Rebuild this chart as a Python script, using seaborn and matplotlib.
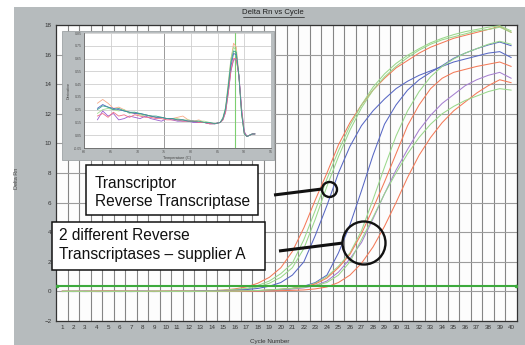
import numpy as np
import pandas as pd
import seaborn as sns
import matplotlib.pyplot as plt
from matplotlib.patches import Rectangle, Circle
from matplotlib.lines import Line2D
from matplotlib.transforms import IdentityTransform

# ---------------- data ----------------
cycles = list(range(1, 41))

# Delta Rn per cycle, Transcriptor group (early)
tr_orange = [0.01, 0.0, 0.01, 0.02, 0.03, 0.02, 0.01, 0.0, 0.01, 0.0, 0.01, 0.02, 0.03, 0.05, 0.09, 0.17,
             0.3, 0.55, 0.95, 1.6, 2.7, 4.3, 6.2, 8.0, 9.9, 11.4, 12.6, 13.6, 14.4, 15.1, 15.6, 16.1,
             16.5, 16.8, 17.1, 17.3, 17.5, 17.7, 17.9, 17.5]
tr_green_a = [0.0, 0.01, 0.0, 0.0, 0.01, 0.0, 0.01, 0.0, 0.0, 0.01, 0.02, 0.02, 0.03, 0.05, 0.08, 0.13,
              0.2, 0.4, 0.7, 1.2, 1.9, 3.5, 5.5, 7.6, 9.5, 11.2, 12.6, 13.8, 14.7, 15.4, 15.95, 16.4,
              16.8, 17.1, 17.35, 17.55, 17.7, 17.85, 17.95, 17.6]
tr_green_b = [0.0, 0.0, 0.01, 0.0, 0.0, 0.01, 0.0, 0.01, 0.0, 0.0, 0.01, 0.01, 0.02, 0.04, 0.06, 0.1,
              0.15, 0.3, 0.55, 0.95, 1.6, 2.9, 4.9, 7.1, 9.1, 10.9, 12.4, 13.6, 14.5, 15.2, 15.8, 16.3,
              16.7, 17.0, 17.2, 17.4, 17.6, 17.7, 17.85, 17.5]
tr_blue = [-0.01, 0.0, -0.01, 0.0, 0.0, -0.01, 0.0, 0.0, 0.0, -0.01, 0.0, 0.0, 0.01, 0.02, 0.04, 0.07,
           0.12, 0.2, 0.35, 0.6, 1.1, 2.0, 3.8, 5.8, 8.0, 9.8, 11.2, 12.2, 13.0, 13.7, 14.2, 14.6,
           14.9, 15.2, 15.5, 15.7, 15.9, 16.1, 16.2, 15.8]

# Delta Rn per cycle, supplier A group (late)
sa_blue = [0.0, -0.01, 0.0, -0.01, -0.01, 0.0, -0.01, 0.0, -0.01, 0.0, 0.0, -0.01, 0.0, 0.0, 0.0, 0.01,
           0.02, 0.04, 0.07, 0.12, 0.2, 0.35, 0.6, 1.1, 2.6, 4.5, 6.8, 9.2, 11.3, 12.6, 13.6, 14.3,
           14.8, 15.25, 15.75, 16.1, 16.4, 16.65, 16.85, 16.6]
sa_green_a = [0.0, 0.01, 0.0, 0.0, 0.0, 0.01, 0.0, 0.0, 0.0, 0.01, 0.0, 0.0, 0.0, 0.01, 0.01, 0.02,
              0.03, 0.06, 0.1, 0.15, 0.22, 0.32, 0.55, 1.0, 1.7, 2.6, 4.1, 6.2, 8.4, 10.5, 12.2, 13.5,
              14.5, 15.2, 15.7, 16.1, 16.4, 16.7, 16.9, 16.7]
sa_orange_a = [0.0, 0.0, 0.0, 0.01, 0.0, 0.0, 0.01, 0.0, 0.0, 0.0, 0.01, 0.0, 0.0, 0.0, 0.01, 0.02,
               0.03, 0.05, 0.09, 0.14, 0.2, 0.3, 0.5, 0.9, 1.6, 2.5, 3.9, 5.6, 7.4, 9.3, 11.2, 12.6,
               13.7, 14.4, 14.8, 15.0, 15.2, 15.35, 15.5, 15.2]
sa_purple = [0.0, 0.0, 0.01, 0.0, 0.0, 0.0, 0.0, 0.01, 0.0, 0.0, 0.0, 0.0, 0.01, 0.0, 0.01, 0.01,
             0.02, 0.04, 0.07, 0.11, 0.16, 0.24, 0.4, 0.7, 1.3, 2.2, 3.3, 4.9, 6.6, 8.2, 9.6, 10.9,
             11.9, 12.7, 13.3, 13.9, 14.3, 14.6, 14.8, 14.4]
sa_orange_b = [0.0, 0.0, 0.0, 0.0, 0.01, 0.0, 0.0, 0.0, 0.0, 0.01, 0.0, 0.0, 0.0, 0.0, 0.0, 0.01,
               0.01, 0.02, 0.03, 0.05, 0.07, 0.1, 0.17, 0.3, 0.6, 1.1, 1.9, 3.0, 4.4, 6.0, 7.7, 9.2,
               10.4, 11.4, 12.2, 12.8, 13.4, 13.9, 14.3, 14.1]
sa_green_b = [0.0, 0.0, 0.0, 0.01, 0.0, 0.0, 0.0, 0.0, 0.01, 0.0, 0.0, 0.0, 0.0, 0.01, 0.01, 0.02,
              0.04, 0.06, 0.1, 0.15, 0.2, 0.28, 0.4, 0.6, 1.1, 2.0, 3.5, 5.0, 6.6, 8.0, 9.3, 10.4,
              11.3, 12.0, 12.5, 12.9, 13.2, 13.5, 13.7, 13.6]

threshold = 0.35

# melt curve inset: derivative vs temperature
melt_temp = [62.5, 63.5, 64.5, 65.5, 66.5, 67.5, 68.5, 69.5, 70.5, 71.5, 72.5, 73.5, 74.5, 75.5,
             76.5, 77.5, 78.5, 79.5, 80.5, 81.5, 82.5, 83.5, 84.5, 85.5, 86.0, 86.5, 87.0, 87.5,
             88.0, 88.5, 89.0, 89.5, 90.0, 90.5, 91.0, 91.5, 92.0]
melt_orange = [0.30, 0.33, 0.30, 0.26, 0.27, 0.25, 0.23, 0.22, 0.21, 0.21, 0.20, 0.19, 0.19, 0.18, 0.18,
               0.19, 0.20, 0.17, 0.16, 0.17, 0.15, 0.14, 0.14, 0.15, 0.18, 0.26, 0.44, 0.64, 0.77, 0.74,
               0.52, 0.22, 0.06, 0.04, 0.05, 0.06, 0.06]
melt_green = [0.22, 0.25, 0.26, 0.25, 0.24, 0.25, 0.22, 0.23, 0.21, 0.20, 0.20, 0.19, 0.19, 0.18, 0.18,
              0.18, 0.17, 0.17, 0.16, 0.16, 0.16, 0.15, 0.14, 0.15, 0.19, 0.27, 0.46, 0.65, 0.74, 0.71,
              0.50, 0.21, 0.06, 0.04, 0.05, 0.06, 0.06]
melt_blue = [0.26, 0.29, 0.27, 0.26, 0.25, 0.24, 0.23, 0.22, 0.22, 0.21, 0.20, 0.19, 0.19, 0.18, 0.18,
             0.17, 0.17, 0.16, 0.16, 0.15, 0.15, 0.14, 0.14, 0.15, 0.18, 0.25, 0.41, 0.59, 0.69, 0.68,
             0.51, 0.23, 0.07, 0.04, 0.05, 0.06, 0.06]
melt_purple = [0.17, 0.24, 0.20, 0.22, 0.17, 0.18, 0.20, 0.19, 0.18, 0.20, 0.18, 0.17, 0.16, 0.18, 0.17,
               0.16, 0.16, 0.16, 0.15, 0.15, 0.15, 0.14, 0.14, 0.15, 0.17, 0.23, 0.38, 0.55, 0.64, 0.64,
               0.52, 0.26, 0.08, 0.04, 0.05, 0.06, 0.06]
melt_red = [0.20, 0.22, 0.19, 0.23, 0.20, 0.21, 0.19, 0.21, 0.20, 0.19, 0.19, 0.18, 0.18, 0.17, 0.17,
            0.17, 0.16, 0.16, 0.16, 0.15, 0.15, 0.14, 0.14, 0.15, 0.17, 0.23, 0.38, 0.56, 0.65, 0.65,
            0.51, 0.25, 0.07, 0.04, 0.05, 0.06, 0.06]
melt_teal = [0.25, 0.28, 0.27, 0.25, 0.26, 0.24, 0.23, 0.23, 0.22, 0.21, 0.20, 0.20, 0.19, 0.18, 0.18,
             0.17, 0.17, 0.16, 0.16, 0.16, 0.15, 0.15, 0.14, 0.15, 0.18, 0.26, 0.43, 0.62, 0.71, 0.70,
             0.51, 0.22, 0.06, 0.04, 0.05, 0.06, 0.06]
melt_peak_temp = 88.3

# ---------------- styling ----------------
ORANGE, GREEN, BLUE, PURPLE = "#f47a58", "#9ad88b", "#5767c4", "#a57fd0"
amp_curves = {
    "tr_orange": (tr_orange, ORANGE), "tr_green_a": (tr_green_a, GREEN),
    "tr_green_b": (tr_green_b, GREEN), "tr_blue": (tr_blue, BLUE),
    "sa_blue": (sa_blue, BLUE), "sa_green_a": (sa_green_a, GREEN),
    "sa_orange_a": (sa_orange_a, ORANGE), "sa_purple": (sa_purple, PURPLE),
    "sa_orange_b": (sa_orange_b, ORANGE), "sa_green_b": (sa_green_b, GREEN),
}
melt_curves = {
    "orange": (melt_orange, "#f7aa88"), "green": (melt_green, "#a3dc93"),
    "blue": (melt_blue, "#4f62c0"), "purple": (melt_purple, "#9a5bd0"),
    "red": (melt_red, "#ee6f86"), "teal": (melt_teal, "#3aa48f"),
}

sns.set_style("white")
plt.rcParams["font.family"] = ["Liberation Sans", "DejaVu Sans"]

W, H = 525, 345
PANEL = "#b6bbbd"
fig = plt.figure(figsize=(W / 100, H / 100), dpi=100)
fig.patch.set_facecolor("white")


def fx(x):
    return x / W


def fy(y):
    return 1 - y / H


fig.add_artist(Rectangle((fx(14), 0), 1 - fx(14), fy(7), transform=fig.transFigure,
                         facecolor=PANEL, edgecolor="none", zorder=-1))

# ---------------- main amplification plot ----------------
ax = fig.add_axes([fx(56.2), fy(321), 460.8 / W, 296 / H])
ax.set_facecolor("#fdfdfd")

amp_df = pd.concat([pd.DataFrame({"cycle": cycles, "delta_rn": v, "curve": k})
                    for k, (v, c) in amp_curves.items()])
sns.lineplot(data=amp_df, x="cycle", y="delta_rn", hue="curve",
             palette={k: c for k, (v, c) in amp_curves.items()},
             estimator=None, legend=False, lw=0.75, ax=ax, zorder=3)
ax.axhline(threshold, color="#3daa3d", lw=1.5, zorder=4)
ax.plot([0.6, 40.4], [threshold, threshold], ls="none", marker="o", ms=1.6, color="#3daa3d", zorder=4)

ax.set_xlim(0.5, 40.5)
ax.set_ylim(-2, 18)
ax.set_xticks(cycles)
ax.set_xticks(np.arange(1.5, 40.5, 1), minor=True)
ax.set_yticks(range(-2, 19, 2))
ax.grid(True, which="minor", axis="x", color="#858585", lw=0.8)
ax.grid(True, which="major", axis="y", color="#9c9c9c", lw=0.8)
ax.tick_params(axis="both", which="both", length=0, labelsize=4.5, labelcolor="#333333")
ax.tick_params(axis="x", pad=3)
ax.tick_params(axis="y", pad=3.5)
ax.set_xlabel("")
ax.set_ylabel("")
for s in ax.spines.values():
    s.set_color("#333333")
    s.set_linewidth(0.9)

fig.text(fx(273), fy(12.5), "Delta Rn vs Cycle", ha="center", va="center", fontsize=5.6, color="#222222")
fig.add_artist(Line2D([fx(243), fx(304)], [fy(17), fy(17)], color="#222222", lw=0.5))
fig.text(fx(270), fy(341), "Cycle Number", ha="center", va="center", fontsize=4.5, color="#333333")
fig.text(fx(16), fy(178), "Delta Rn", ha="center", va="center", rotation=90, fontsize=4, color="#444444")

# ---------------- inset melt curve ----------------
fig.add_artist(Rectangle((fx(62), fy(160)), 212 / W, 129 / H, transform=fig.transFigure,
                         facecolor="#b9bec0", edgecolor="#9ea3a5", lw=0.6, zorder=1))
axi = fig.add_axes([fx(84), fy(148), 187 / W, 115 / H], zorder=2)
axi.set_facecolor("white")
melt_df = pd.concat([pd.DataFrame({"temp": melt_temp, "deriv": v, "curve": k})
                     for k, (v, c) in melt_curves.items()])
sns.lineplot(data=melt_df, x="temp", y="deriv", hue="curve",
             palette={k: c for k, (v, c) in melt_curves.items()},
             estimator=None, legend=False, lw=0.6, ax=axi, zorder=3)
axi.axvline(melt_peak_temp, color="#7dcf6f", lw=0.8, zorder=2)
axi.set_xlim(60, 95)
axi.set_ylim(-0.05, 0.85)
axi.set_xticks(range(60, 96, 5))
axi.set_yticks(np.round(np.arange(-0.05, 0.86, 0.1), 2))
axi.set_yticklabels([f"{t:.2f}" for t in np.arange(-0.05, 0.86, 0.1)])
axi.grid(True, color="#cfcfcf", lw=0.6)
axi.get_xgridlines()[3].set_color("#8a8a8a")
axi.tick_params(length=0, labelsize=2.6, labelcolor="#555555", pad=1.5)
axi.set_xlabel("Temperature (C)", fontsize=2.8, color="#444444", labelpad=1.5)
axi.set_ylabel("Derivative", fontsize=2.8, color="#444444", labelpad=2)
for side in ["top", "right"]:
    axi.spines[side].set_visible(False)
for side in ["left", "bottom"]:
    axi.spines[side].set_color("#666666")
    axi.spines[side].set_linewidth(0.6)

# ---------------- annotations (pixel positions) ----------------
pix = IdentityTransform()
for (x0, y0, x1, y1) in [(86, 165, 258, 215), (52, 222, 265, 270)]:
    fig.add_artist(Rectangle((x0, H - y1), x1 - x0, y1 - y0, transform=pix,
                             facecolor="white", edgecolor="#111111", lw=1.1, zorder=5))
for (x, y, s) in [(95, 188, "Transcriptor"), (95, 206, "Reverse Transcriptase"),
                  (59, 240, "2 different Reverse"), (59, 259, "Transcriptases \u2013 supplier A")]:
    fig.text(x, H - y, s, transform=pix, va="baseline", ha="left", fontsize=11.2, color="#111111", zorder=6)
for (x0, y0, x1, y1) in [(274, 195, 322, 189), (279, 251, 343, 243)]:
    fig.add_artist(Line2D([x0, x1], [H - y0, H - y1], transform=pix, color="#111111",
                          lw=2.2, solid_capstyle="butt", zorder=6))
for (cx, cy, r) in [(329.5, 189.5, 7.5), (364, 243, 21.5)]:
    fig.add_artist(Circle((cx, H - cy), r, transform=pix, fill=False, edgecolor="#111111",
                          lw=1.7, zorder=6))

fig.savefig("out.png", dpi=100)
